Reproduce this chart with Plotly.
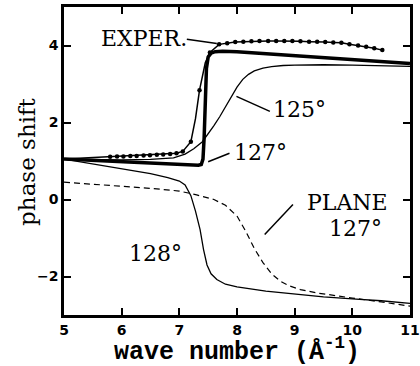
import plotly.graph_objects as go

# ---------------- data ----------------
exper_line_x = [5.0, 5.4, 5.80, 5.92, 6.03, 6.15, 6.26, 6.38, 6.49, 6.61, 6.72, 6.84, 6.95,
                7.06, 7.20, 7.28, 7.35, 7.45, 7.53, 7.69, 7.83, 7.97, 8.11, 8.25, 8.39,
                8.54, 8.68, 8.82, 8.96, 9.10, 9.25, 9.39, 9.53, 9.67, 9.81, 9.95, 10.10,
                10.24, 10.38, 10.52]
exper_line_y = [1.05, 1.08, 1.11, 1.12, 1.12, 1.13, 1.13, 1.14, 1.15, 1.16, 1.17, 1.18, 1.20,
                1.25, 1.50, 2.10, 2.84, 3.55, 3.82, 4.03, 4.06, 4.09, 4.10, 4.11, 4.12,
                4.12, 4.12, 4.12, 4.12, 4.11, 4.10, 4.10, 4.09, 4.08, 4.07, 4.03, 4.00,
                3.97, 3.93, 3.88]
exper_mark_x = [5.80, 5.92, 6.03, 6.15, 6.26, 6.38, 6.49, 6.61, 6.72, 6.84, 6.95,
                7.06, 7.20, 7.35, 7.53, 7.69, 7.83, 7.97, 8.11, 8.25, 8.39,
                8.54, 8.68, 8.82, 8.96, 9.10, 9.25, 9.39, 9.53, 9.67, 9.81, 9.95, 10.10,
                10.24, 10.38, 10.52]
exper_mark_y = [1.11, 1.12, 1.12, 1.13, 1.13, 1.14, 1.15, 1.16, 1.17, 1.18, 1.20,
                1.25, 1.50, 2.84, 3.82, 4.03, 4.06, 4.09, 4.10, 4.11, 4.12,
                4.12, 4.12, 4.12, 4.12, 4.11, 4.10, 4.10, 4.09, 4.08, 4.07, 4.03, 4.00,
                3.97, 3.93, 3.88]

thick127_x = [5.0, 5.5, 6.0, 6.5, 7.0, 7.2, 7.33, 7.38, 7.41, 7.43, 7.45, 7.47, 7.50,
              7.55, 7.62, 7.75, 8.0, 8.5, 9.0, 9.5, 10.0, 10.5, 11.0]
thick127_y = [1.05, 1.02, 0.98, 0.95, 0.92, 0.90, 0.89, 0.91, 1.05, 1.60, 2.60, 3.40, 3.70,
              3.80, 3.84, 3.85, 3.84, 3.79, 3.74, 3.68, 3.63, 3.58, 3.53]

thin125_x = [5.0, 5.5, 6.0, 6.5, 6.9, 7.1, 7.25, 7.4, 7.5, 7.6, 7.7, 7.8, 7.9, 8.0, 8.1,
             8.2, 8.3, 8.45, 8.6, 8.8, 9.0, 9.5, 10.0, 10.5, 11.0]
thin125_y = [1.05, 1.04, 1.03, 1.04, 1.08, 1.18, 1.32, 1.50, 1.70, 1.92, 2.15, 2.42, 2.68,
             2.92, 3.12, 3.25, 3.34, 3.41, 3.45, 3.48, 3.49, 3.50, 3.49, 3.48, 3.46]

thin128_x = [5.0, 5.5, 6.0, 6.5, 6.8, 7.0, 7.1, 7.2, 7.28, 7.36, 7.42, 7.48, 7.55, 7.65,
             7.8, 8.0, 8.5, 9.0, 9.5, 10.0, 10.5, 11.0]
thin128_y = [1.05, 0.93, 0.80, 0.67, 0.57, 0.48, 0.38, 0.10, -0.30, -0.78, -1.30, -1.70,
             -1.93, -2.08, -2.20, -2.27, -2.38, -2.46, -2.53, -2.58, -2.63, -2.70]

plane_x = [5.0, 5.5, 6.0, 6.5, 7.0, 7.3, 7.6, 7.8, 8.0, 8.15, 8.3, 8.45, 8.6, 8.75, 8.9,
           9.1, 9.4, 9.7, 10.0, 10.5, 11.0]
plane_y = [0.45, 0.40, 0.35, 0.29, 0.22, 0.12, 0.00, -0.15, -0.43, -0.82, -1.27, -1.64,
           -1.93, -2.12, -2.24, -2.34, -2.43, -2.50, -2.56, -2.66, -2.77]

x_ticks = [5, 6, 7, 8, 9, 10, 11]
y_ticks = [-2, 0, 2, 4]

# labels: (text, x, y)
labels = [("EXPER.", 6.38, 4.19), ("125°", 9.09, 2.34), ("127°", 8.40, 1.22),
          ("PLANE", 9.91, -0.09), ("127°", 10.05, -0.75), ("128°", 6.59, -1.40)]
# leader lines: (x0, y0, x1, y1)
leaders = [(7.13, 4.16, 7.65, 4.05), (7.99, 2.68, 8.57, 2.29),
           (7.50, 0.98, 7.87, 1.20), (8.48, -0.91, 8.97, -0.13)]

# ---------------- figure ----------------
fig = go.Figure()
fig.add_trace(go.Scatter(x=plane_x, y=plane_y, mode="lines",
                         line=dict(color="black", width=1.2, dash="6px,4px")))
fig.add_trace(go.Scatter(x=thin128_x, y=thin128_y, mode="lines",
                         line=dict(color="black", width=1.3)))
fig.add_trace(go.Scatter(x=thin125_x, y=thin125_y, mode="lines",
                         line=dict(color="black", width=1.3)))
fig.add_trace(go.Scatter(x=thick127_x, y=thick127_y, mode="lines",
                         line=dict(color="black", width=3.5)))
fig.add_trace(go.Scatter(x=exper_line_x, y=exper_line_y, mode="lines",
                         line=dict(color="black", width=1.5)))
fig.add_trace(go.Scatter(x=exper_mark_x, y=exper_mark_y, mode="markers",
                         marker=dict(color="black", size=4.5)))

for (t, x, y) in labels:
    fig.add_annotation(x=x, y=y, text=t, showarrow=False, xref="x", yref="y",
                       xanchor="center", yanchor="middle",
                       font=dict(family="DejaVu Serif", size=22, color="black"))
for (x0, y0, x1, y1) in leaders:
    fig.add_shape(type="line", x0=x0, y0=y0, x1=x1, y1=y1, xref="x", yref="y",
                  line=dict(color="black", width=1.5))

fig.add_annotation(xref="paper", yref="paper", x=0.501, y=-0.114,
                   xanchor="center", yanchor="middle",
                   text="wave number (Å<sup>-1</sup>)", showarrow=False,
                   font=dict(family="Liberation Mono", size=25, color="black", weight="bold"))
fig.add_annotation(xref="paper", yref="paper", x=-0.107, y=0.497, textangle=-90,
                   xanchor="center", yanchor="middle",
                   text="phase shift", showarrow=False,
                   font=dict(family="DejaVu Serif", size=23, color="black"))

axis_common = dict(showgrid=False, zeroline=False, showline=True, linecolor="black",
                   linewidth=2.5, mirror="ticks", ticks="inside", ticklen=7,
                   tickwidth=2, tickcolor="black", automargin=False,
                   tickfont=dict(family="DejaVu Sans", size=14, color="black", weight="bold"))
fig.update_xaxes(range=[5, 11], tickvals=x_ticks, ticktext=[str(v) for v in x_ticks],
                 **axis_common)
fig.update_yaxes(range=[-3, 5], tickvals=y_ticks,
                 ticktext=[("−2" if v == -2 else str(v)) for v in y_ticks], **axis_common)

fig.update_layout(width=420, height=366, showlegend=False,
                  margin=dict(l=64, r=10, t=7, b=51, autoexpand=False),
                  paper_bgcolor="white", plot_bgcolor="white")

fig.write_html("out.html", config={"displayModeBar": False},
               post_script="document.body.style.margin='0';document.body.style.overflow='hidden';")
